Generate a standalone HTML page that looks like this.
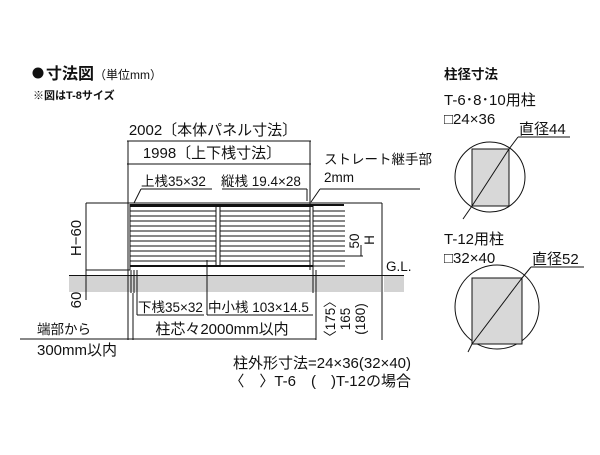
<!DOCTYPE html>
<html><head><meta charset="utf-8"><style>
body{margin:0;background:#fff}
svg text{font-family:"Liberation Sans","Noto Sans CJK JP",sans-serif;fill:#111}
</style></head><body>
<svg width="600" height="450" viewBox="0 0 600 450" xmlns="http://www.w3.org/2000/svg">
<rect width="600" height="450" fill="#fff"/>
<circle cx="38" cy="73" r="5.5" fill="#111"/>
<text x="46" y="79" font-size="16" font-weight="bold">寸法図<tspan font-size="12" font-weight="normal">（単位mm）</tspan></text>
<text x="33" y="99" font-size="11" font-weight="bold">※図はT-8サイズ</text>

<rect x="69" y="276" width="312" height="16" fill="#d3d3d3"/>
<rect x="384" y="276" width="20" height="16" fill="#d3d3d3"/>
<g stroke="#111" stroke-width="1" fill="none">
<line x1="69" y1="275.5" x2="404" y2="275.5"/>
<line x1="127" y1="141" x2="311" y2="141"/>
<line x1="127" y1="164" x2="311" y2="164"/>
<line x1="128" y1="141" x2="128" y2="340"/>
<line x1="310" y1="141" x2="310" y2="204"/>
<line x1="86" y1="203" x2="382" y2="203"/>
<line x1="86" y1="203" x2="86" y2="300"/>
<line x1="86" y1="270" x2="130" y2="270"/>
<line x1="382" y1="203" x2="382" y2="340"/>
<line x1="141" y1="189" x2="212" y2="189"/>
<line x1="141" y1="189" x2="134" y2="203"/>
<line x1="222" y1="189" x2="307" y2="189"/>
<line x1="307" y1="189" x2="307" y2="201"/>
<line x1="320" y1="189" x2="420" y2="189"/>
<line x1="320" y1="189" x2="311" y2="202"/>
<line x1="130" y1="204" x2="130" y2="270"/>
<line x1="310" y1="204" x2="310" y2="270"/>
<line x1="313" y1="204" x2="313" y2="270"/>
<line x1="216" y1="206" x2="216" y2="267"/>
<line x1="220" y1="206" x2="220" y2="267"/>
<line x1="131" y1="270" x2="131" y2="293"/>
<line x1="134" y1="270" x2="134" y2="293"/>
<line x1="133" y1="293" x2="133" y2="340"/>
<line x1="313" y1="270" x2="313" y2="293"/>
<line x1="316" y1="270" x2="316" y2="340"/>
<line x1="137" y1="270" x2="137" y2="315"/>
<line x1="137" y1="315" x2="204" y2="315"/>
<line x1="207" y1="260" x2="207" y2="315"/>
<line x1="207" y1="315" x2="313" y2="315"/>
<line x1="20" y1="339" x2="316" y2="339"/>
<line x1="361" y1="245" x2="361" y2="256"/>
<line x1="345" y1="256" x2="363" y2="256"/>
</g>
<rect x="130" y="204" width="183" height="3" fill="#111"/>
<rect x="130" y="265" width="183" height="2" fill="#111"/>
<rect x="310" y="204" width="34" height="2" fill="#111"/>
<g stroke="#111" stroke-width="1">
<line x1="130" y1="211" x2="216" y2="211"/><line x1="220" y1="211" x2="310" y2="211"/><line x1="313" y1="211" x2="345" y2="211"/>
<line x1="130" y1="216" x2="216" y2="216"/><line x1="220" y1="216" x2="310" y2="216"/><line x1="313" y1="216" x2="345" y2="216"/>
<line x1="130" y1="221" x2="216" y2="221"/><line x1="220" y1="221" x2="310" y2="221"/><line x1="313" y1="221" x2="345" y2="221"/>
<line x1="130" y1="226" x2="216" y2="226"/><line x1="220" y1="226" x2="310" y2="226"/><line x1="313" y1="226" x2="345" y2="226"/>
<line x1="130" y1="231" x2="216" y2="231"/><line x1="220" y1="231" x2="310" y2="231"/><line x1="313" y1="231" x2="345" y2="231"/>
<line x1="130" y1="236" x2="216" y2="236"/><line x1="220" y1="236" x2="310" y2="236"/><line x1="313" y1="236" x2="345" y2="236"/>
<line x1="130" y1="241" x2="216" y2="241"/><line x1="220" y1="241" x2="310" y2="241"/><line x1="313" y1="241" x2="345" y2="241"/>
<line x1="130" y1="246" x2="216" y2="246"/><line x1="220" y1="246" x2="310" y2="246"/><line x1="313" y1="246" x2="345" y2="246"/>
<line x1="130" y1="251" x2="216" y2="251"/><line x1="220" y1="251" x2="310" y2="251"/><line x1="313" y1="251" x2="345" y2="251"/>
<line x1="130" y1="256" x2="216" y2="256"/><line x1="220" y1="256" x2="310" y2="256"/><line x1="313" y1="256" x2="345" y2="256"/>
<line x1="130" y1="261" x2="216" y2="261"/><line x1="220" y1="261" x2="310" y2="261"/><line x1="313" y1="261" x2="345" y2="261"/>
<line x1="313" y1="266" x2="345" y2="266"/>
</g>

<text x="213" y="135" font-size="15" text-anchor="middle">2002〔本体パネル寸法〕</text>
<text x="212" y="158" font-size="15" text-anchor="middle">1998〔上下桟寸法〕</text>
<text x="141" y="186" font-size="13.5">上桟35×32</text>
<text x="221" y="186" font-size="13.5">縦桟 19.4×28</text>
<text x="324" y="164" font-size="13.5">ストレート継手部</text>
<text x="324" y="182" font-size="13.5">2mm</text>
<text x="386" y="271" font-size="13.5">G.L.</text>
<text transform="translate(81,238) rotate(-90)" font-size="15" text-anchor="middle">H−60</text>
<text transform="translate(81,300) rotate(-90)" font-size="15" text-anchor="middle">60</text>
<text transform="translate(359,241) rotate(-90)" font-size="13.5" text-anchor="middle">50</text>
<text transform="translate(374,240) rotate(-90)" font-size="13.5" text-anchor="middle">H</text>
<text x="138" y="312" font-size="13.5">下桟35×32</text>
<text x="208" y="312" font-size="13.5">中小桟 103×14.5</text>
<text x="222" y="334" font-size="15" text-anchor="middle">柱芯々2000mm以内</text>
<text x="37" y="334" font-size="13.5">端部から</text>
<text x="37" y="355" font-size="15">300mm以内</text>
<text transform="translate(335,319) rotate(-90)" font-size="13.5" text-anchor="middle">〈175〉</text>
<text transform="translate(350,319) rotate(-90)" font-size="13.5" text-anchor="middle">165</text>
<text transform="translate(365,319) rotate(-90)" font-size="13.5" text-anchor="middle">(180)</text>
<text x="411" y="368" font-size="15" text-anchor="end">柱外形寸法=24×36(32×40)</text>
<text x="411" y="386" font-size="15" text-anchor="end">〈　〉T-6　(　)T-12の場合</text>

<text x="444" y="79" font-size="13.5" font-weight="bold">柱径寸法</text>
<text x="444" y="105" font-size="15">T-6･8･10用柱</text>
<text x="444" y="124" font-size="15">□24×36</text>
<text x="519" y="134" font-size="15">直径44</text>
<circle cx="490" cy="177" r="35" fill="none" stroke="#111"/>
<rect x="472" y="149" width="37" height="57" fill="#d8d8d8" stroke="#111"/>
<g stroke="#111" fill="none">
<line x1="472" y1="206" x2="509" y2="149"/>
<line x1="509" y1="149" x2="518" y2="137"/><line x1="518" y1="137" x2="570" y2="137"/>
<line x1="472" y1="206" x2="463" y2="219"/>
</g>
<text x="444" y="244" font-size="15">T-12用柱</text>
<text x="444" y="263" font-size="15">□32×40</text>
<text x="532" y="264" font-size="15">直径52</text>
<circle cx="497" cy="307" r="42" fill="none" stroke="#111"/>
<rect x="472" y="278" width="50" height="66" fill="#d8d8d8" stroke="#111"/>
<g stroke="#111" fill="none">
<line x1="472" y1="344" x2="522" y2="278"/>
<line x1="522" y1="278" x2="531" y2="267"/><line x1="531" y1="267" x2="584" y2="267"/>
<line x1="472" y1="344" x2="468" y2="352"/>
</g>
</svg>
</body></html>
